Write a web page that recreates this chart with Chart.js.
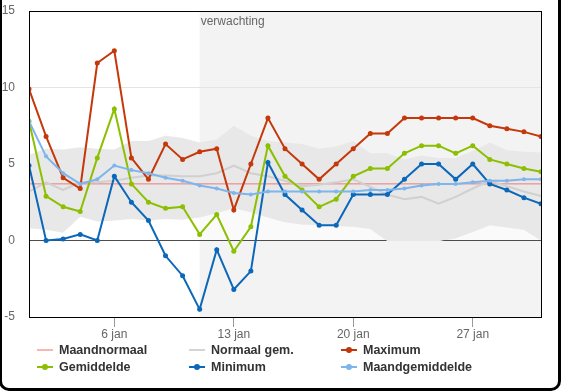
<!DOCTYPE html>
<html>
<head>
<meta charset="utf-8">
<script src="https://cdn.jsdelivr.net/npm/chart.js@4.4.1/dist/chart.umd.min.js"></script>
<style>
  html, body { margin: 0; padding: 0; background: #fff; overflow: hidden; }
  #wrap { position: relative; width: 561px; height: 392px; }
  #frame { position: absolute; left: -1px; top: -20px; width: 562px; height: 411px;
           box-sizing: border-box; border: 3px solid #000; border-radius: 10px; }
  canvas { position: absolute; left: 0; top: 0; }
  .leg { position: absolute; font: bold 12.5px "Liberation Sans", Arial, sans-serif; color: #333;
         white-space: nowrap; line-height: 14px; }
  .sym { position: absolute; left: 0; top: 6px; width: 16px; height: 2px; }
  .dot { position: absolute; left: 5px; top: -2px; width: 6px; height: 6px; border-radius: 3px; }
  .txt { position: absolute; left: 22px; top: 0; }
</style>
</head>
<body>
<div id="wrap">
  <canvas id="chart" width="561" height="392"></canvas>
  <div id="frame"></div>
</div>
<script>
// dagen in januari
const days = [1, 2, 3, 4, 5, 6, 7, 8, 9, 10, 11, 12, 13, 14, 15, 16, 17, 18, 19, 20, 21, 22, 23, 24, 25, 26, 27, 28, 29, 30, 31];
const tickDays = [6, 13, 20, 27];
const tickLabels = ['6 jan', '13 jan', '20 jan', '27 jan'];
const yTicks = [-5, 0, 5, 10, 15];
const forecastFrom = 11;

const maximum = [9.9, 6.8, 4.1, 3.4, 11.6, 12.4, 5.4, 4.0, 6.3, 5.3, 5.8, 6.0, 2.0, 5.0, 8.0, 6.0, 5.0, 4.0, 5.0, 6.0, 7.0, 7.0, 8.0, 8.0, 8.0, 8.0, 8.0, 7.5, 7.3, 7.1, 6.8];
const gemiddelde = [7.8, 2.9, 2.2, 1.9, 5.4, 8.6, 3.7, 2.5, 2.1, 2.2, 0.4, 1.7, -0.7, 0.9, 6.2, 4.2, 3.3, 2.2, 2.7, 4.2, 4.7, 4.7, 5.7, 6.2, 6.2, 5.7, 6.2, 5.3, 5.0, 4.7, 4.5];
const minimum = [4.9, 0.0, 0.1, 0.4, 0.0, 4.2, 2.5, 1.3, -1.0, -2.3, -4.5, -0.6, -3.2, -2.0, 5.1, 3.0, 2.0, 1.0, 1.0, 3.0, 3.0, 3.0, 4.0, 5.0, 5.0, 4.0, 5.0, 3.7, 3.3, 2.8, 2.4];
const maandgemiddelde = [7.8, 5.5, 4.4, 3.7, 4.0, 4.9, 4.6, 4.4, 4.1, 3.9, 3.6, 3.4, 3.1, 3.0, 3.2, 3.2, 3.2, 3.2, 3.2, 3.2, 3.3, 3.3, 3.4, 3.6, 3.7, 3.7, 3.8, 3.9, 3.9, 4.0, 4.0];
const normaalGem = [3.2, 3.8, 3.3, 3.8, 3.8, 3.9, 4.1, 4.25, 4.25, 4.2, 4.2, 4.4, 4.9, 4.4, 4.2, 3.9, 3.55, 3.65, 3.8, 4.0, 3.5, 3.0, 2.7, 2.85, 2.4, 2.85, 3.4, 3.9, 3.55, 3.2, 2.9];
const maandnormaal = [3.7, 3.7, 3.7, 3.7, 3.7, 3.7, 3.7, 3.7, 3.7, 3.7, 3.7, 3.7, 3.7, 3.7, 3.7, 3.7, 3.7, 3.7, 3.7, 3.7, 3.7, 3.7, 3.7, 3.7, 3.7, 3.7, 3.7, 3.7, 3.7, 3.7, 3.7];
const bandUpper = [5.6, 6.0, 5.95, 6.1, 6.0, 5.95, 6.5, 6.5, 6.85, 6.7, 6.4, 6.6, 7.5, 6.85, 6.5, 6.4, 6.3, 6.0, 6.15, 6.5, 5.7, 5.7, 5.3, 5.55, 5.4, 5.4, 5.85, 6.4, 5.9, 5.8, 5.75];
const bandLower = [0.8, 0.7, 0.5, 1.55, 1.25, 1.3, 1.4, 1.3, 1.4, 1.35, 1.5, 1.8, 2.1, 1.85, 1.5, 1.2, 1.05, 1.0, 0.95, 0.9, 0.75, -0.05, -0.05, -0.05, -0.05, 0.15, 0.55, 1.0, 0.85, 0.7, 0.0];

const legendNames = ['Maandnormaal', 'Normaal gem.', 'Maximum', 'Gemiddelde', 'Minimum', 'Maandgemiddelde'];
const legendColors = ['#f7b5b5', '#d4d4d4', '#c2360c', '#8cbf00', '#0a67b9', '#7db5ec'];
const legendDots = [false, false, true, true, true, true];

function pts(values) {
    return days.map((d, i) => ({ x: d, y: values[i] }));
}

function serie(label, values, color, order) {
    return {
        label: label,
        data: pts(values),
        borderColor: color,
        backgroundColor: color,
        borderWidth: 2,
        pointRadius: 2.5,
        pointBorderWidth: 0,
        pointBackgroundColor: color,
        tension: 0,
        fill: false,
        order: order
    };
}

// achtergrond voor de verwachting en kader om het plotgebied
const forecastPlugin = {
    id: 'forecast',
    beforeDraw(chart) {
        const { ctx, chartArea, scales } = chart;
        const x0 = scales.x.getPixelForValue(forecastFrom);
        ctx.save();
        ctx.fillStyle = '#f3f3f3';
        ctx.fillRect(x0, chartArea.top, chartArea.right - x0, chartArea.bottom - chartArea.top);
        ctx.restore();
    },
    afterDatasetsDraw(chart) {
        const { ctx, chartArea, scales } = chart;
        const x0 = scales.x.getPixelForValue(forecastFrom);
        ctx.save();
        ctx.fillStyle = '#666';
        ctx.font = '12px "Liberation Sans", Arial, sans-serif';
        ctx.textBaseline = 'top';
        ctx.fillText('verwachting', x0 + 1, chartArea.top + 5);
        ctx.strokeStyle = '#000';
        ctx.lineWidth = 1;
        ctx.strokeRect(Math.round(chartArea.left) + 0.5, Math.round(chartArea.top) + 0.5,
            Math.round(chartArea.right - chartArea.left), Math.round(chartArea.bottom - chartArea.top));
        ctx.restore();
    }
};

const ctx = document.getElementById('chart').getContext('2d');
const chart = new Chart(ctx, {
    type: 'line',
    data: {
        datasets: [
            { label: 'ondergrens', data: pts(bandLower), borderWidth: 0, pointRadius: 0,
              fill: 'origin', backgroundColor: 'rgba(255,255,255,0.6)', order: 20 },
            { label: 'bovengrens', data: pts(bandUpper), borderWidth: 0, pointRadius: 0,
              fill: '-1', backgroundColor: '#e8e8e8', order: 19 },
            Object.assign(serie('Maandnormaal', maandnormaal, '#ee7b7b', 10), { borderWidth: 1, pointRadius: 0 }),
            Object.assign(serie('Normaal gem.', normaalGem, '#d0d0d0', 9), { pointRadius: 0 }),
            serie('Maximum', maximum, '#c4380a', 4),
            serie('Gemiddelde', gemiddelde, '#8cbf00', 3),
            serie('Minimum', minimum, '#0a67b9', 2),
            Object.assign(serie('Maandgemiddelde', maandgemiddelde, '#7db5ec', 1), { pointRadius: 2 })
        ]
    },
    options: {
        responsive: false,
        animation: false,
        devicePixelRatio: 1,
        layout: { padding: { top: 11, right: 20, left: 0, bottom: 0 } },
        plugins: {
            legend: { display: false },
            tooltip: { enabled: false }
        },
        scales: {
            x: {
                type: 'linear',
                min: 1,
                max: 31,
                afterBuildTicks: (s) => { s.ticks = tickDays.map(v => ({ value: v })); },
                afterFit: (s) => { s.height = 75; s.paddingLeft = 0; s.paddingRight = 0; },
                ticks: {
                    color: '#666',
                    padding: 0,
                    font: { family: '"Liberation Sans", Arial, sans-serif', size: 12 },
                    callback: (v) => tickLabels[tickDays.indexOf(v)]
                },
                grid: { drawOnChartArea: false, drawTicks: true, tickLength: 10, color: '#999' },
                border: { display: false }
            },
            y: {
                min: -5,
                max: 15,
                afterBuildTicks: (s) => { s.ticks = yTicks.map(v => ({ value: v })); },
                afterFit: (s) => { s.width = 29; s.paddingTop = 0; s.paddingBottom = 0; },
                ticks: {
                    color: '#666',
                    padding: 14,
                    font: { family: '"Liberation Sans", Arial, sans-serif', size: 12 }
                },
                grid: {
                    drawTicks: false,
                    color: (c) => c.tick.value === 0 ? '#000' : '#e4e4e4'
                },
                border: { display: false }
            }
        }
    },
    plugins: [forecastPlugin]
});

// legenda in drie kolommen
const wrap = document.getElementById('wrap');
legendNames.forEach((name, i) => {
    const item = document.createElement('div');
    item.className = 'leg';
    item.style.left = (37 + (i % 3) * 152) + 'px';
    item.style.top = (343 + Math.floor(i / 3) * 17) + 'px';
    const sym = document.createElement('div');
    sym.className = 'sym';
    sym.style.background = legendColors[i];
    if (legendDots[i]) {
        const dot = document.createElement('div');
        dot.className = 'dot';
        dot.style.background = legendColors[i];
        sym.appendChild(dot);
    }
    const txt = document.createElement('span');
    txt.className = 'txt';
    txt.textContent = name;
    item.appendChild(sym);
    item.appendChild(txt);
    wrap.appendChild(item);
});
</script>
</body>
</html>
